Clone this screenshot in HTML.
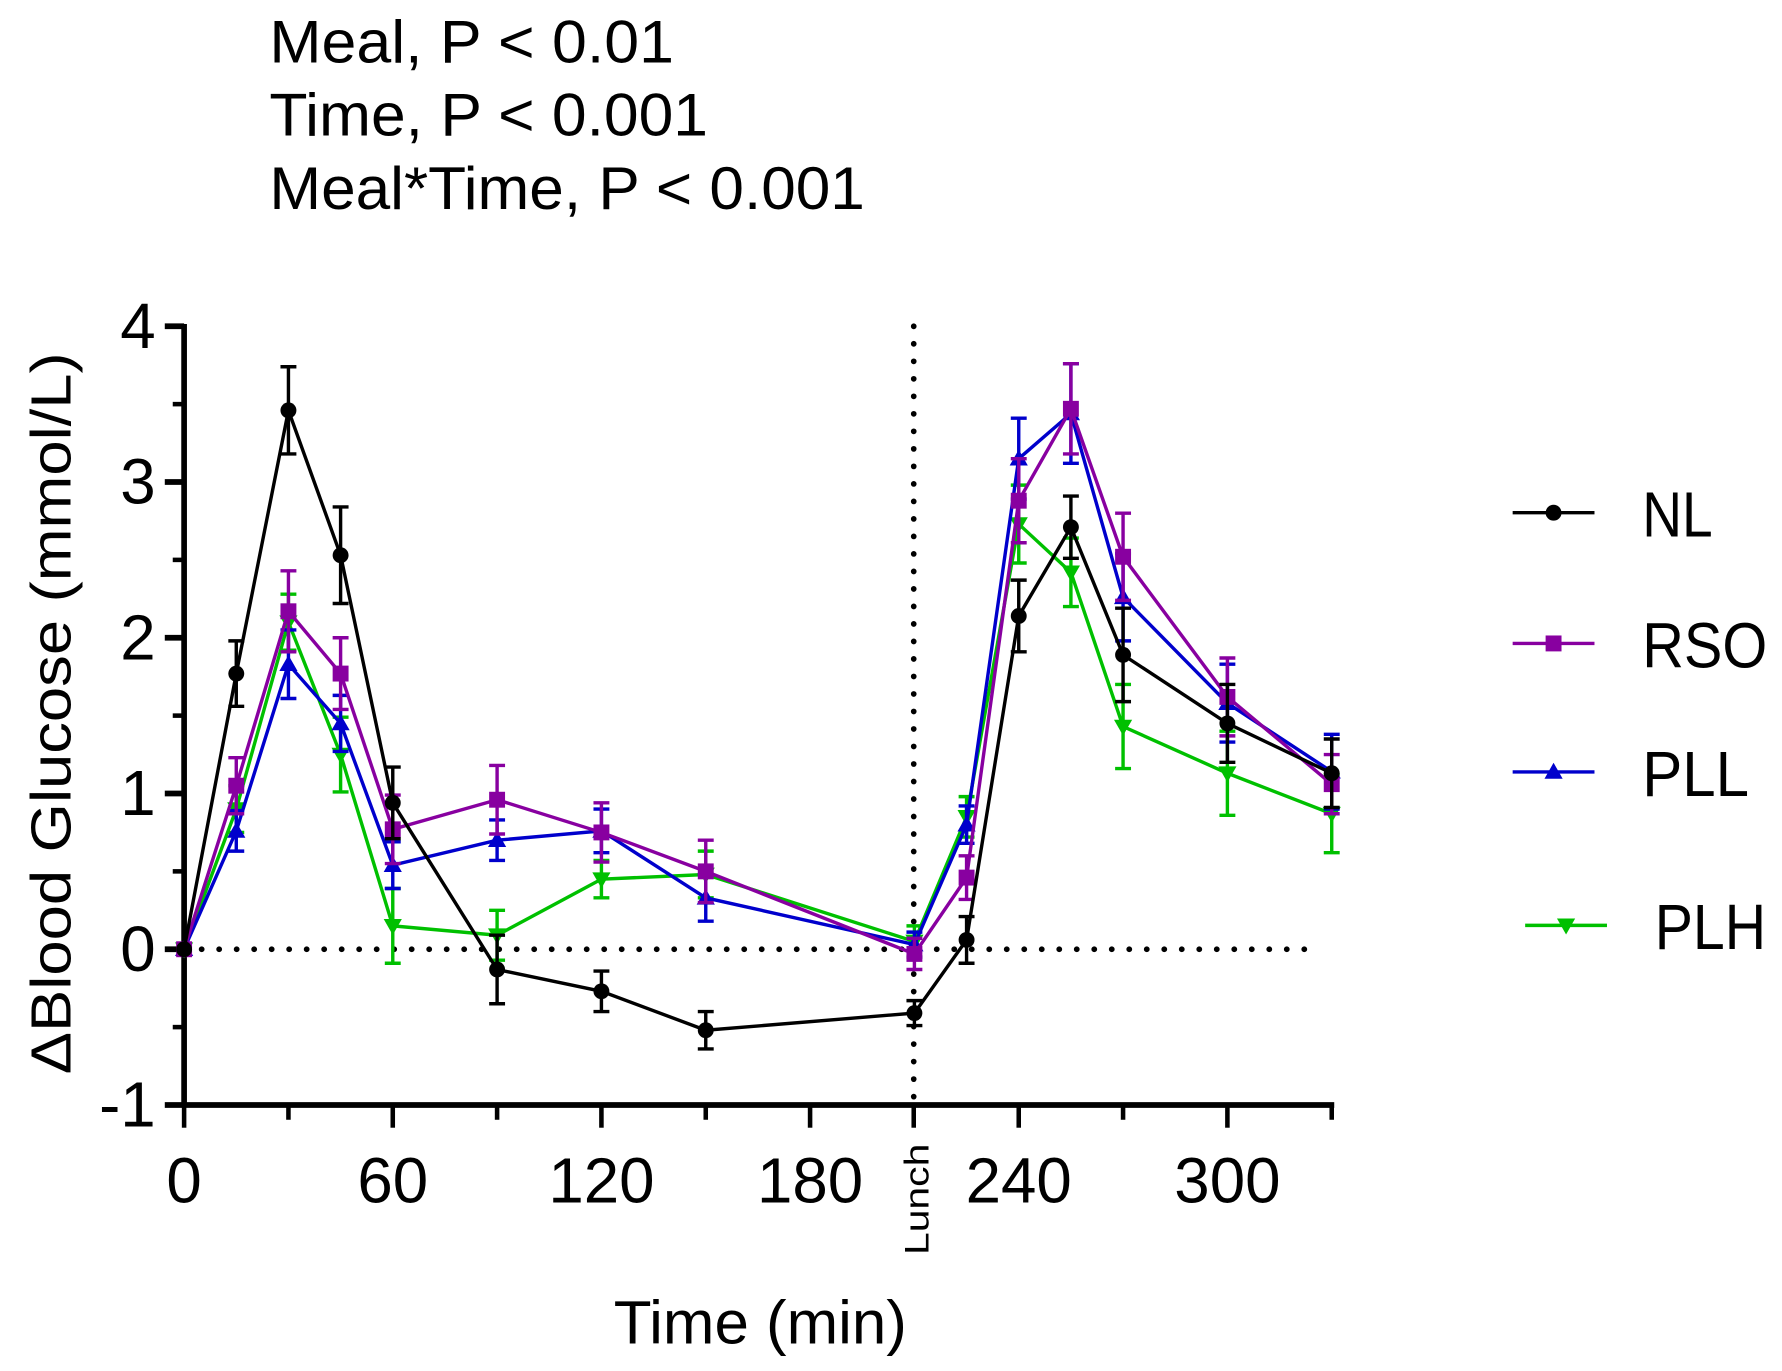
<!DOCTYPE html>
<html><head><style>html,body{margin:0;padding:0;background:#fff;}svg{display:block}</style></head>
<body>
<svg id="s" width="1782" height="1371" viewBox="0 0 1568 1206" preserveAspectRatio="none" xmlns="http://www.w3.org/2000/svg" font-family="Liberation Sans, Arial, sans-serif">
<g font-size="53" fill="#000">
<text x="237" y="55" textLength="356" lengthAdjust="spacingAndGlyphs">Meal, P &lt; 0.01</text>
<text x="237" y="119" textLength="386" lengthAdjust="spacingAndGlyphs">Time, P &lt; 0.001</text>
<text x="237" y="184" textLength="524" lengthAdjust="spacingAndGlyphs">Meal*Time, P &lt; 0.001</text>
</g>
<text x="540" y="1182" font-size="54" textLength="258" lengthAdjust="spacingAndGlyphs">Time (min)</text>
<text transform="translate(62,945) rotate(-90)" font-size="50" textLength="635" lengthAdjust="spacingAndGlyphs">ΔBlood Glucose (mmol/L)</text>
<g id="g"></g>
</svg>
<script>
const g=document.getElementById('g');const NS='http://www.w3.org/2000/svg';
function el(t,a,txt){const e=document.createElementNS(NS,t);for(const k in a)e.setAttribute(k,a[k]);if(txt)e.textContent=txt;g.appendChild(e);return e;}
const X=t=>162+t*3.06, Y=v=>835-v*137;
el('line',{x1:162,y1:835,x2:1160,y2:835,stroke:'#000','stroke-width':5,'stroke-dasharray':'0.1 15.3','stroke-linecap':'round'});
el('line',{x1:804,y1:287,x2:804,y2:968,stroke:'#000','stroke-width':5,'stroke-dasharray':'0.1 15.3','stroke-linecap':'round'});
el('line',{x1:162,y1:285,x2:162,y2:974,stroke:'#000','stroke-width':5});
el('line',{x1:160,y1:972,x2:1174,y2:972,stroke:'#000','stroke-width':5});
for(let v=-1;v<=4;v++){el('line',{x1:145,y1:Y(v),x2:162,y2:Y(v),stroke:'#000','stroke-width':5});
 el('text',{x:137,y:Y(v)+19,'font-size':56,'text-anchor':'end'},v==-1?'-1':String(v));}
for(let v=-0.5;v<4;v+=1){el('line',{x1:152,y1:Y(v),x2:162,y2:Y(v),stroke:'#000','stroke-width':4});}
[0,30,60,90,120,150,180,240,270,300,330].forEach(t=>{const big=t%60==0;el('line',{x1:X(t),y1:972,x2:X(t),y2:big?992:985,stroke:'#000','stroke-width':4});
 if(big)el('text',{x:X(t),y:1058,'font-size':56,'text-anchor':'middle'},String(t));});
el('line',{x1:804,y1:972,x2:804,y2:992,stroke:'#000','stroke-width':4});
el('text',{transform:'translate(817,1104) rotate(-90)','font-size':30,textLength:98,lengthAdjust:'spacingAndGlyphs'},'Lunch');
const T=[0,15,30,45,60,90,120,150,210,225,240,255,270,300,330];
const S=[
['#00c000','tdown',[0,0.90,2.10,1.25,0.15,0.09,0.45,0.48,0.05,0.85,2.73,2.42,1.43,1.13,0.87],[0,.15,.18,.24,.24,.16,.12,.15,.1,.13,.25,.22,.27,.27,.25]],
['#0000cc','tup',[0,0.76,1.83,1.45,0.54,0.70,0.76,0.33,0.03,0.80,3.15,3.44,2.26,1.58,1.14],[0,.13,.22,.18,.15,.13,.14,.15,.08,.12,.26,.32,.28,.25,.24]],
['#8800a0','sq',[0,1.05,2.17,1.77,0.77,0.96,0.75,0.50,-0.03,0.46,2.88,3.47,2.52,1.62,1.06],[0,.18,.26,.23,.22,.22,.19,.2,.1,.14,.27,.29,.28,.25,.19]],
['#000','c',[0,1.77,3.46,2.53,0.94,-0.13,-0.27,-0.52,-0.41,0.06,2.14,2.71,1.89,1.45,1.13],[0,.21,.28,.31,.23,.22,.13,.12,.08,.15,.23,.2,.3,.25,.22]]];
function mk(type,x,y,c){if(type=='c')el('circle',{cx:x,cy:y,r:7,fill:c});
 else if(type=='sq')el('rect',{x:x-7,y:y-7,width:14,height:14,fill:c});
 else if(type=='tup')el('polygon',{points:`${x},${y-8} ${x-8},${y+6} ${x+8},${y+6}`,fill:c});
 else el('polygon',{points:`${x},${y+8} ${x-8},${y-6} ${x+8},${y-6}`,fill:c});}
S.forEach(([c,m,v,e])=>{
 el('polyline',{points:T.map((t,i)=>X(t)+','+Y(v[i])).join(' '),fill:'none',stroke:c,'stroke-width':3});
 T.forEach((t,i)=>{if(e[i]>0){const x=X(t);el('line',{x1:x,y1:Y(v[i]-e[i]),x2:x,y2:Y(v[i]+e[i]),stroke:c,'stroke-width':3});
 [v[i]-e[i],v[i]+e[i]].forEach(q=>el('line',{x1:x-7,y1:Y(q),x2:x+7,y2:Y(q),stroke:c,'stroke-width':3}));}
 mk(m,X(t),Y(v[i]),c);});
});
[['NL','#000','c',1331,1403,451,1445,62],['RSO','#8800a0','sq',1331,1403,566,1445,110],['PLL','#0000cc','tup',1331,1403,679,1445,94],['PLH','#00c000','tdown',1342,1414,814,1456,98]].forEach(([n,c,m,x1,x2,y,tx,w])=>{
 el('line',{x1:x1,y1:y,x2:x2,y2:y,stroke:c,'stroke-width':3});mk(m,(x1+x2)/2,y,c);
 el('text',{x:tx,y:y+21,'font-size':56,textLength:w,lengthAdjust:'spacingAndGlyphs'},n);});
</script>
</body></html>
